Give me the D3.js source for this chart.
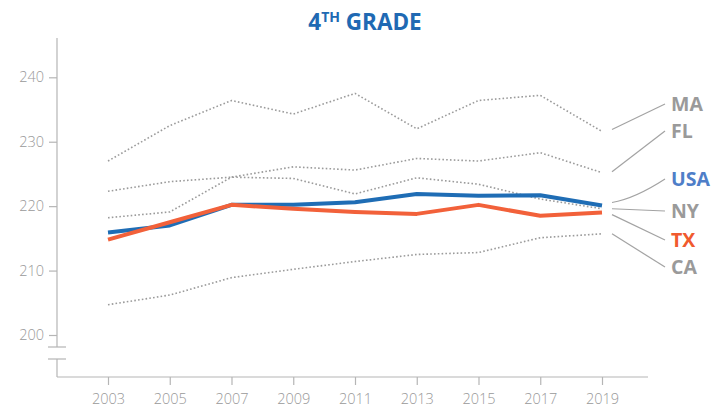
<!DOCTYPE html>
<html>
<head>
<meta charset="utf-8">
<script src="https://cdn.jsdelivr.net/npm/d3@7"></script>
<style>
  body { margin: 0; background: #fff; }
  text { font-family: "Open Sans", sans-serif; }
</style>
</head>
<body>
<div id="lineChart"></div>
<script>
// years on the x axis
var years = [2003, 2005, 2007, 2009, 2011, 2013, 2015, 2017, 2019];
var yTicks = [200, 210, 220, 230, 240];

// scores
var maScores  = [227.0, 232.5, 236.4, 234.3, 237.5, 232.0, 236.4, 237.2, 231.6];
var flScores  = [218.2, 219.1, 224.5, 226.1, 225.6, 227.4, 227.0, 228.3, 225.2];
var nyScores  = [222.3, 223.8, 224.5, 224.3, 221.9, 224.4, 223.4, 221.1, 219.6];
var caScores  = [204.7, 206.2, 208.9, 210.2, 211.4, 212.5, 212.8, 215.1, 215.7];
var usaScores = [215.9, 217.0, 220.2, 220.2, 220.6, 221.9, 221.6, 221.7, 220.1];
var txScores  = [214.8, 217.5, 220.2, 219.6, 219.1, 218.8, 220.2, 218.5, 219.0];

var seriesNames = ["MA", "FL", "NY", "CA", "USA", "TX"];

var chart = {
  width: 713,
  height: 410,
  axisX: 57,
  axisRight: 648,
  axisBottom: 377,
  axisTop: 38,
};

var colors = {
  blue: "#1f6db5",
  orange: "#f2613a",
  gray: "#9a9a9a",
  axis: "#b5b5b5",
};

function drawChart() {
  const svg = d3
    .select("#lineChart")
    .append("svg")
    .attr("width", chart.width)
    .attr("height", chart.height);

  var x = d3
    .scaleLinear()
    .domain([2003, 2019])
    .range([108, 602]);

  var y = d3
    .scaleLinear()
    .domain([200, 240])
    .range([335, 77.3]);

  /* title */
  var title = svg
    .append("text")
    .attr("x", 365)
    .attr("y", 30)
    .attr("text-anchor", "middle")
    .attr("fill", "#2069b3")
    .attr("font-size", 22.5)
    .attr("font-weight", 700);
  title.append("tspan").text("4");
  title.append("tspan").attr("font-size", 14).attr("dy", -8).text("TH");
  title.append("tspan").attr("dy", 8).text(" GRADE");

  /* y axis, with a break near the bottom */
  svg.append("line")
    .attr("x1", chart.axisX).attr("x2", chart.axisX)
    .attr("y1", chart.axisTop).attr("y2", 347)
    .attr("stroke", colors.axis).attr("stroke-width", 1.2);
  svg.append("line")
    .attr("x1", chart.axisX).attr("x2", chart.axisX)
    .attr("y1", 359).attr("y2", chart.axisBottom)
    .attr("stroke", colors.axis).attr("stroke-width", 1.2);
  [347, 359].forEach((by) => {
    svg.append("line")
      .attr("x1", 48).attr("x2", 66)
      .attr("y1", by).attr("y2", by)
      .attr("stroke", colors.axis).attr("stroke-width", 1.2);
  });

  var yAxis = (g) =>
    g
      .attr("transform", `translate(${chart.axisX}, 0)`)
      .call(d3.axisLeft(y).tickValues(yTicks).tickSize(8).tickPadding(5))
      .call((g) => g.select(".domain").remove());

  svg.append("g").call(yAxis);

  /* x axis */
  var xAxis = (g) =>
    g
      .attr("transform", `translate(0, ${chart.axisBottom})`)
      .call(d3.axisBottom(x).tickValues(years).tickSize(8).tickPadding(9).tickFormat((d) => d))
      .call((g) => g.select(".domain").remove());

  svg.append("line")
    .attr("x1", chart.axisX).attr("x2", chart.axisRight)
    .attr("y1", chart.axisBottom).attr("y2", chart.axisBottom)
    .attr("stroke", colors.axis).attr("stroke-width", 1.2);

  svg.append("g").call(xAxis);

  svg.selectAll(".tick line").attr("stroke", colors.axis).attr("stroke-width", 1.2);
  svg.selectAll(".tick text")
    .attr("fill", "#999999")
    .attr("font-size", 14.5)
    .attr("font-weight", 300)
    .attr("font-family", "'Open Sans', sans-serif");

  /* lines */
  var seriesData = {
    MA: maScores, FL: flScores, NY: nyScores, CA: caScores, USA: usaScores, TX: txScores,
  };

  var line = d3
    .line()
    .x((d, i) => x(years[i]))
    .y((d) => y(d));

  seriesNames.forEach((name) => {
    var main = name === "USA" || name === "TX";
    svg
      .append("path")
      .datum(seriesData[name])
      .attr("fill", "none")
      .attr("stroke", name === "USA" ? colors.blue : name === "TX" ? colors.orange : "#9b9b9b")
      .attr("stroke-width", main ? 4 : 1.6)
      .attr("stroke-dasharray", main ? null : "1.6,2.2")
      .attr("stroke-linejoin", "round")
      .attr("d", line);
  });

  /* leader lines and labels */
  var labelY = { MA: 104, FL: 131, USA: 179, NY: 211, TX: 240, CA: 267 };
  var labelColor = { USA: "#4f7ec8", TX: "#f05a2e" };
  var startShift = { MA: -2, FL: -1, USA: -3, NY: 0, TX: 2, CA: 0 };
  var lastX = x(years[years.length - 1]);

  ["MA", "FL", "USA", "NY", "TX", "CA"].forEach((name) => {
    var vals = seriesData[name];
    var sx = lastX + 10;
    var sy = y(vals[vals.length - 1]) + startShift[name];
    var ex = 665;
    var ey = labelY[name];
    var path = d3.path();
    path.moveTo(sx, sy);
    if (name === "USA") {
      path.quadraticCurveTo(635, sy - 4, ex, ey);
    } else {
      path.lineTo(ex, ey);
    }
    svg.append("path")
      .attr("d", path.toString())
      .attr("fill", "none")
      .attr("stroke", "#a3a3a3")
      .attr("stroke-width", 1.2);

    svg.append("text")
      .attr("x", 671)
      .attr("y", ey + 7)
      .attr("fill", labelColor[name] || "#9a9a9a")
      .attr("font-size", 19.5)
      .attr("font-weight", 700)
      .text(name);
  });
}

drawChart();
</script>
</body>
</html>
